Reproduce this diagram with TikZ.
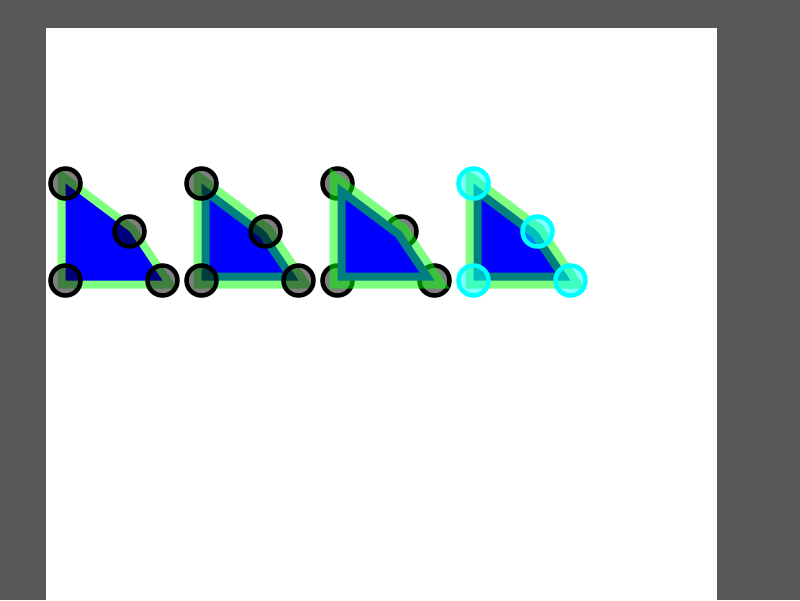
\documentclass[tikz,border=0pt]{standalone}
\usepackage{tikz}
\usepackage{xcolor}
\definecolor{frame}{RGB}{88,88,88}
\definecolor{aqua}{RGB}{0,255,255}
\definecolor{lime}{RGB}{0,255,0}
\definecolor{pure}{RGB}{0,0,255}

\begin{document}
\begin{tikzpicture}[x=1pt, y=-1pt,
  wedge/.style={line width=16pt, draw=lime, draw opacity=0.5},
  knob/.style={circle, draw=black, line width=4.5pt, fill=black,
               fill opacity=0.5, draw opacity=1, minimum size=30pt, inner sep=0pt},
  aquaknob/.style={knob, draw=aqua, fill=aqua}]
  % backdrop and page
  \fill[frame] (0,0) rectangle (800,600);
  \fill[white] (46,28) rectangle (717,600);
  % corner points of the four shapes
  \foreach \k in {1,...,4} {
    \pgfmathsetmacro\dx{136*(\k-1)}
    \coordinate (p\k a) at (65.5+\dx,183.5);
    \coordinate (p\k b) at (129.5+\dx,231.5);
    \coordinate (p\k c) at (162.5+\dx,280.5);
    \coordinate (p\k d) at (65.5+\dx,280.5);
  }
  % stroke under the fill
  \draw[wedge] (p1a) -- (p1b) -- (p1c) -- (p1d) -- cycle;
  \fill[pure] (p1a) -- (p1b) -- (p1c) -- (p1d) -- cycle;
  \foreach \v in {a,b,c,d} \node[knob] (k1\v) at (p1\v) {};
  % stroke over the fill
  \filldraw[wedge, fill=pure] (p2a) -- (p2b) -- (p2c) -- (p2d) -- cycle;
  \foreach \v in {a,b,c,d} \node[knob] (k2\v) at (p2\v) {};
  % knobs under the shape
  \foreach \v in {a,b,c,d} \node[knob] (k3\v) at (p3\v) {};
  \filldraw[wedge, fill=pure] (p3a) -- (p3b) -- (p3c) -- (p3d) -- cycle;
  % aqua knobs
  \filldraw[wedge, fill=pure] (p4a) -- (p4b) -- (p4c) -- (p4d) -- cycle;
  \foreach \v in {a,b,c,d} \node[aquaknob] (k4\v) at (p4\v) {};
\end{tikzpicture}
\end{document}
